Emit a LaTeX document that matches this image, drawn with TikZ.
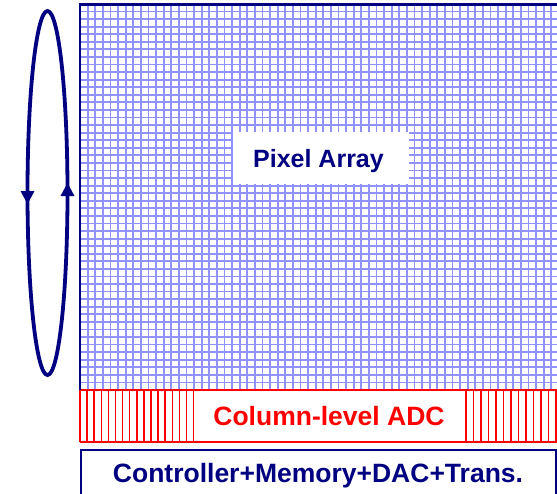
\documentclass[tikz,border=0pt]{standalone}
\usepackage{fontspec}
\setmainfont{Liberation Sans}
\definecolor{navy}{RGB}{0,0,128}
\definecolor{gridblue}{RGB}{145,145,255}
\definecolor{adcred}{RGB}{255,0,0}
\tikzset{
  gridline/.style={draw=gridblue, line width=1.8pt},
  hatchline/.style={draw=adcred, line width=1.5pt},
  label/.style={font=\bfseries\fontsize{25}{28}\selectfont, anchor=base, inner sep=0pt},
  biglabel/.style={font=\bfseries\fontsize{26.5}{30}\selectfont, anchor=base, inner sep=0pt},
  navyline/.style={draw=navy, line width=2.6pt},
}
\begin{document}
\begin{tikzpicture}[x=1pt,y=-1pt]
\useasboundingbox (0,0) rectangle (557,493);
% pixel array grid
\fill[white] (80,4) rectangle (557,390);
\foreach \i in {1,...,62} {
  \draw[gridline] ({80+7.6*\i},4) -- ({80+7.6*\i},390);
}
\foreach \j in {1,...,51} {
  \draw[gridline] (80,{390-7.57*\j}) -- (557,{390-7.57*\j});
}
% pixel array label box
\fill[white] (233,132) rectangle (409,184);
\node[label, text=navy] (pix) at (318.5,167) {Pixel Array};
% ADC band
\fill[white] (80,390) rectangle (557,442);
\foreach \i in {0,...,16} {
  \draw[hatchline] ({80+7.1*\i},390) -- ({80+7.1*\i},442);
}
\foreach \i in {0,...,12} {
  \draw[hatchline] ({466+7.5*\i},390) -- ({466+7.5*\i},442);
}
\draw[adcred, line width=2.6pt] (80,390) -- (557,390);
\draw[adcred, line width=1.2pt] (80,442) -- (557,442);
\node[biglabel, text=adcred] (adc) at (329,425) {Column-level ADC};
% pixel array borders
\draw[navyline] (80,390) -- (80,4.5) -- (557,4.5);
% controller box
\draw[navy, line width=2pt] (81,450) rectangle (556,500);
\node[biglabel, text=navy] (ctrl) at (318,482) {Controller+Memory+DAC+Trans.};
% scanning ellipse
\draw[navy, line width=3.8pt] (47.5,193) ellipse [x radius=20, y radius=182];
\fill[navy] (27.5,204) -- (20.5,191) -- (34.5,191) -- cycle;
\fill[navy] (67.5,183) -- (60.5,196) -- (74.5,196) -- cycle;
\end{tikzpicture}
\end{document}
